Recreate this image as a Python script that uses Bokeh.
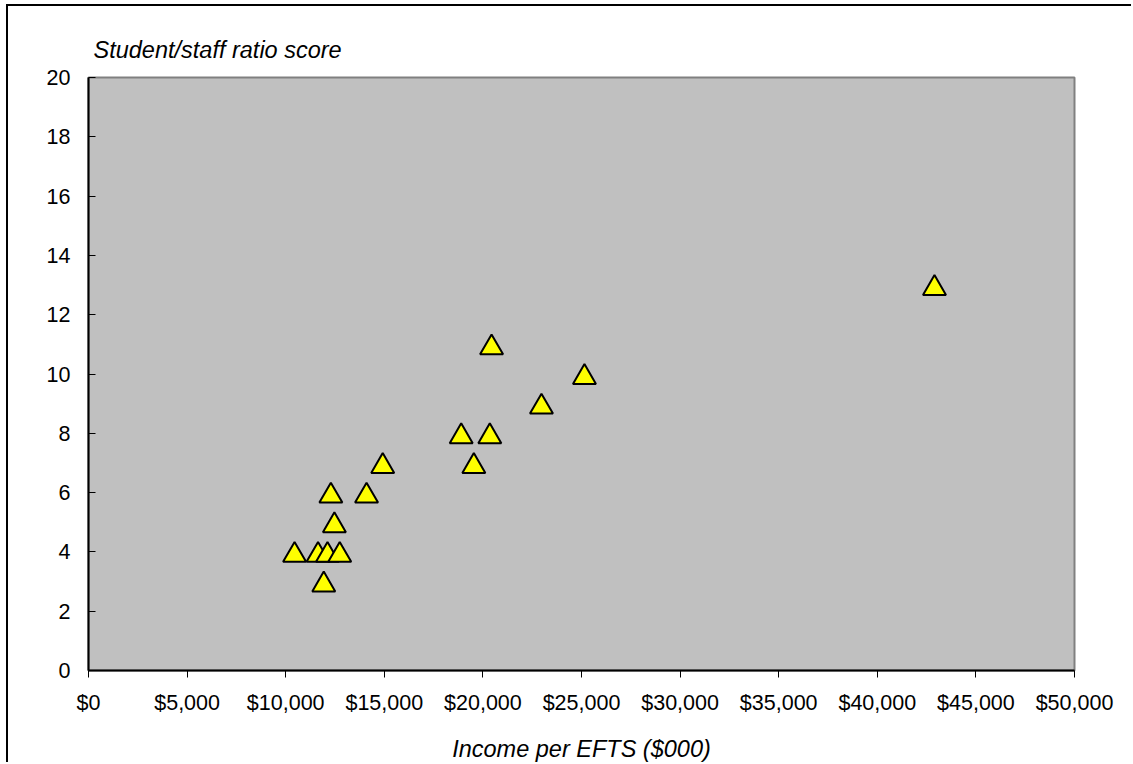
from bokeh.plotting import figure
from bokeh.models import NumeralTickFormatter, FixedTicker, Range1d, ColumnDataSource
from bokeh.transform import dodge
from bokeh.embed import file_html
from bokeh.resources import INLINE

# Data (income per EFTS in $, student/staff ratio score)
income = [10450, 11640, 12120, 12740, 11930, 12470, 12290, 14100, 14920,
          20440, 25150, 22970, 18900, 20350, 19540, 42900]
score = [4, 4, 4, 4, 3, 5, 6, 6, 7,
         11, 10, 9, 8, 8, 7, 13]

x_ticks = list(range(0, 50001, 5000))
y_ticks = list(range(0, 21, 2))

FONT = "Liberation Sans"

p = figure(width=1125, height=758, output_backend="svg", toolbar_location=None,
           x_range=Range1d(0, 50000), y_range=Range1d(0, 20),
           min_border_left=80, min_border_top=71, min_border_right=59, min_border_bottom=94)
p.styles = {"margin-left": "6px", "margin-top": "4px",
            "border-left": "2px solid #000", "border-top": "2px solid #000"}

p.background_fill_color = "#C0C0C0"
p.border_fill_color = "white"
p.outline_line_color = "#808080"
p.outline_line_width = 2
p.xgrid.visible = False
p.ygrid.visible = False

p.title.text = "Student/staff ratio score"
p.title.text_font = FONT
p.title.text_font_size = "23.5px"
p.title.text_font_style = "italic"
p.title.text_color = "black"
p.title.align = "left"
p.title.offset = 5
p.title.standoff = 30

p.xaxis.ticker = FixedTicker(ticks=x_ticks)
p.yaxis.ticker = FixedTicker(ticks=y_ticks)
p.xaxis.formatter = NumeralTickFormatter(format="$0,0")
p.xaxis.axis_label = "Income per EFTS ($000)"

for ax in (p.xaxis[0], p.yaxis[0]):
    ax.axis_line_color = "black"
    ax.axis_line_width = 2
    ax.major_tick_line_color = "black"
    ax.major_tick_line_width = 1
    ax.minor_tick_line_color = None
    ax.major_label_text_font = FONT
    ax.major_label_text_font_size = "21.5px"
    ax.major_label_text_color = "black"

p.xaxis.major_tick_in = 0
p.xaxis.major_tick_out = 7
p.xaxis.major_label_standoff = 13
p.yaxis.major_tick_in = 7
p.yaxis.major_tick_out = 0
p.yaxis.major_label_standoff = 18

p.xaxis.axis_label_text_font = FONT
p.xaxis.axis_label_text_font_size = "23.5px"
p.xaxis.axis_label_text_font_style = "italic"
p.xaxis.axis_label_text_color = "black"
p.xaxis.axis_label_standoff = 18

src = ColumnDataSource(dict(income=income, score=score))
p.scatter(x="income", y=dodge("score", -0.112, range=p.y_range), source=src,
          marker="triangle", size=23, fill_color="#FFFF00",
          line_color="black", line_width=2)

open("out.html", "w").write(file_html(p, INLINE))
